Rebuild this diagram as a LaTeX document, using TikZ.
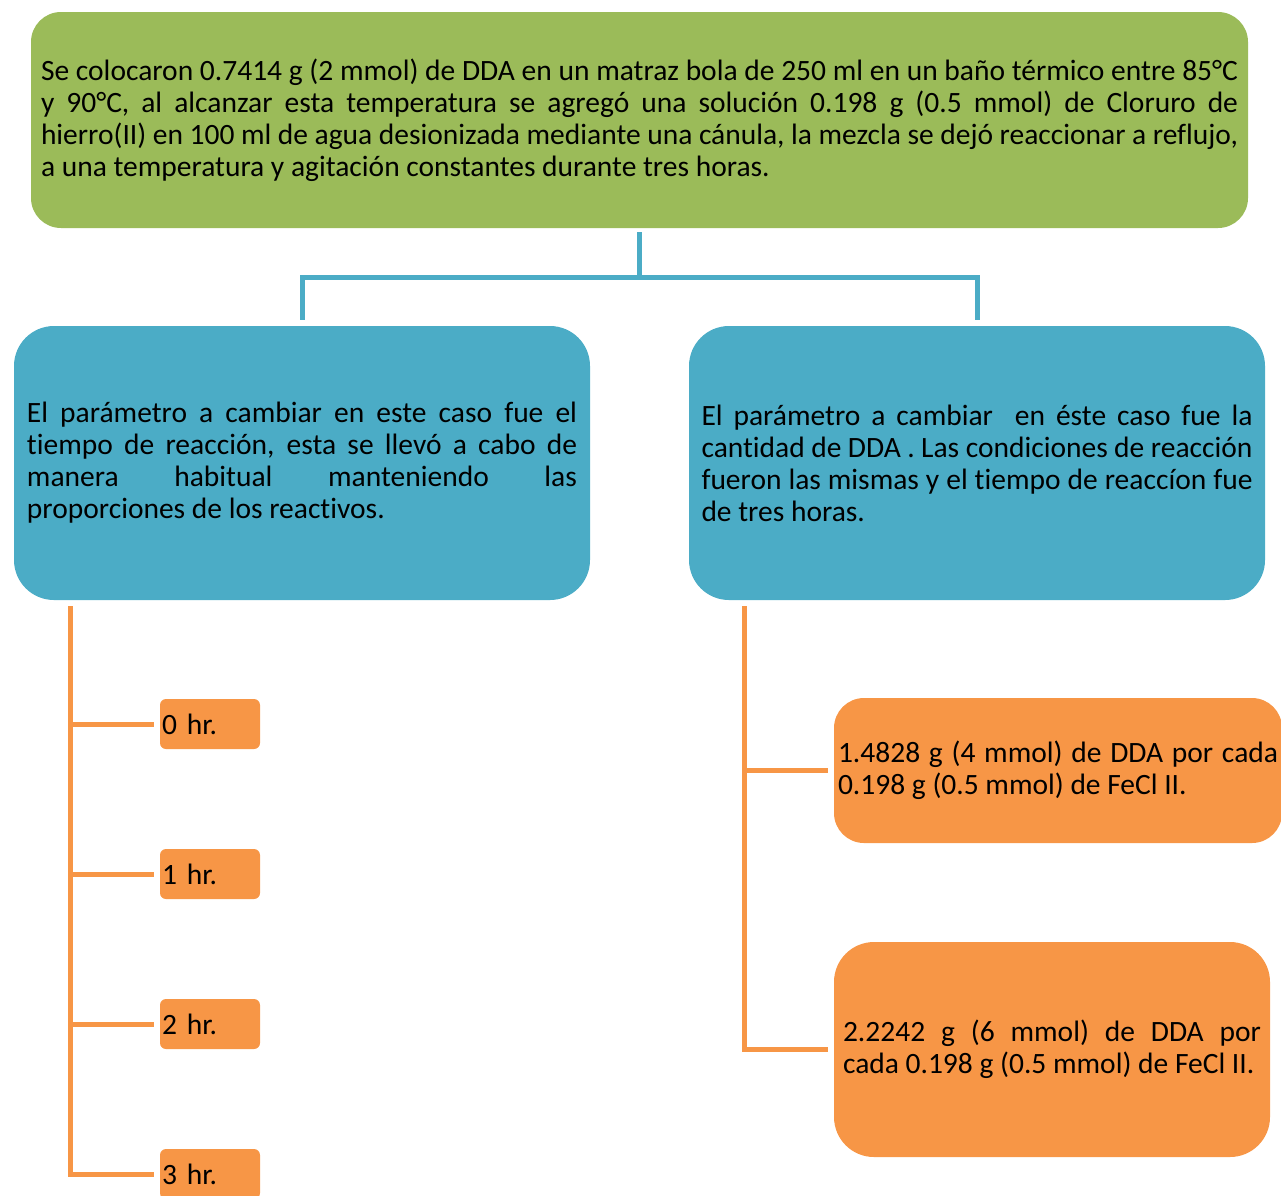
\documentclass[tikz,border=0pt]{standalone}
\usepackage{fontspec}
\setmainfont{Carlito}[Ligatures=NoCommon]
\hyphenpenalty=10000
\definecolor{leafgreen}{HTML}{9BBB59}
\definecolor{seablue}{HTML}{4BACC6}
\definecolor{tangerine}{HTML}{F79646}
\begin{document}
\begin{tikzpicture}[x=1pt,y=-1pt,
  txt/.style={font=\fontsize{29.5}{32}\selectfont, text=black, align=justify, inner ysep=0pt},
  topbox/.style={txt, fill=leafgreen, rounded corners=30pt, minimum height=216pt},
  casebox/.style={txt, fill=seablue, rounded corners=40pt, minimum height=274pt},
  resbox/.style={txt, fill=tangerine},
  hourbox/.style={txt, fill=tangerine, rounded corners=6pt, minimum width=100pt, minimum height=50pt, text width=96pt, inner xsep=2pt, align=left},
  tline/.style={draw=seablue, line width=5pt},
  oline/.style={draw=tangerine, line width=5pt}]
\useasboundingbox (0,0) rectangle (1281,1195);

% procedure
\node[topbox, text width=1197pt, inner xsep=10pt] (top) at (639.5,120)
 {Se colocaron 0.7414 g (2 mmol) de DDA en un matraz bola de 250 ml en un baño térmico entre 85°C\linebreak
  y 90°C, al alcanzar esta temperatura se agregó una solución 0.198 g (0.5 mmol) de Cloruro de\linebreak
  hierro(II) en 100 ml de agua desionizada mediante una cánula, la mezcla se dejó reaccionar a reflujo,\linebreak
  a una temperatura y agitación constantes durante tres horas.};

% the two cases
\node[casebox, text width=550pt, minimum width=576pt, inner xsep=13pt] (lb) at (302,463)
 {El parámetro a cambiar en este caso fue el\linebreak
  tiempo de reacción, esta se llevó a cabo de\linebreak
  manera habitual manteniendo las\linebreak
  proporciones de los reactivos.};
\node[casebox, text width=551pt, minimum width=576pt, inner xsep=12.5pt] (rb) at (977,463)
 {El parámetro a cambiar \ en éste caso fue la\linebreak
  cantidad de DDA . Las condiciones de reacción\linebreak
  fueron las mismas y el tiempo de reaccíon fue\linebreak
  de tres horas.};

% reaction times
\node[hourbox] (h0) at (210,724) {0 hr.};
\node[hourbox] (h1) at (210,874) {1 hr.};
\node[hourbox] (h2) at (210,1024) {2 hr.};
\node[hourbox] (h3) at (210,1174) {3 hr.};

% amounts of DDA
\node[resbox, rounded corners=30pt, text width=440pt, minimum width=448pt, inner xsep=4pt, minimum height=145pt] (d4) at (1058,770.5)
 {1.4828 g (4 mmol) de DDA por cada\linebreak
  0.198 g (0.5 mmol) de FeCl II.};
\node[resbox, rounded corners=40pt, text width=418pt, minimum width=436pt, inner xsep=9pt, minimum height=215pt] (d6) at (1052,1049.5)
 {2.2242 g (6 mmol) de DDA por\linebreak
  cada 0.198 g (0.5 mmol) de FeCl II.};

% connectors
\coordinate (jn) at (639.5,277);
\draw[tline, shorten <=4pt] (top.south) -- (jn);
\draw[tline, shorten <=6pt, shorten >=6pt] (lb.north) |- (jn) -| (rb.north);

\coordinate (lt) at (70,606);
\draw[oline, shorten >=6pt] (lt) |- (h3.west);
\foreach \h in {h0,h1,h2}
  \draw[oline, shorten >=6pt] (lt |- \h.west) -- (\h.west);

\coordinate (rt) at (744,606);
\draw[oline, shorten >=6pt] (rt) |- (d6.west);
\draw[oline, shorten >=6pt] (rt |- d4.west) -- (d4.west);
\end{tikzpicture}
\end{document}
